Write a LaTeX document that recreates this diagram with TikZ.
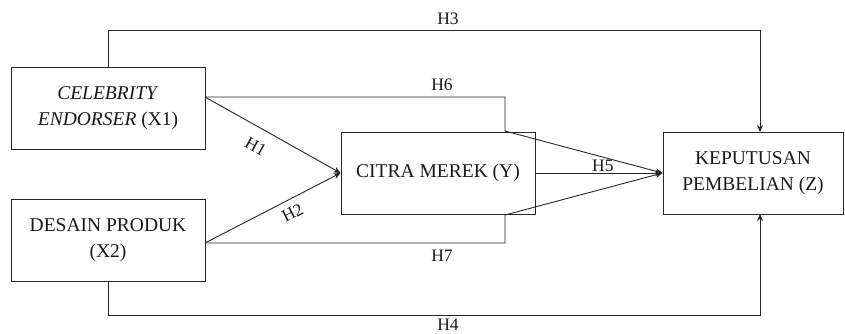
\documentclass[tikz,border=0pt]{standalone}
\usepackage{fontspec}
\setmainfont{Liberation Serif}
\usetikzlibrary{arrows.meta}

\tikzset{
  varbox/.style={draw=black!85, line width=0.9pt, inner sep=0pt, align=center,
    font=\fontsize{19.5}{25.5}\selectfont, text=black!90},
  hlabel/.style={font=\fontsize{17.5}{20}\selectfont, text=black!90, inner sep=0pt},
  path/.style={draw=black!85, line width=0.9pt},
  arr/.style={path, -{Stealth[length=7pt,width=6pt]}}
}

\begin{document}
\begin{tikzpicture}[x=1pt, y=-1pt]
\useasboundingbox (0,0) rectangle (845,333);

% variables
\node[varbox, minimum width=194pt, minimum height=82pt] (x1) at (108,108)
  {\textit{CELEBRITY}\\\textit{ENDORSER} (X1)};
\node[varbox, minimum width=194pt, minimum height=82pt] (x2) at (108,240)
  {DESAIN PRODUK\\(X2)};
\node[varbox, minimum width=194pt, minimum height=82pt] (y) at (438,173)
  {CITRA MEREK (Y)};
\node[varbox, minimum width=180pt, minimum height=82pt] (z) at (753,173)
  {KEPUTUSAN\\PEMBELIAN (Z)};

% anchor points of the routed connectors
\coordinate (x1r) at (205,97);
\coordinate (x2r) at (205,243);
\coordinate (x1t) at (108,67);
\coordinate (x2b) at (108,281);
\coordinate (zt) at (760,132);
\coordinate (zb) at (760,214);
\coordinate (h6a) at (505,97);
\coordinate (h6b) at (505,131);
\coordinate (h7a) at (505,243);
\coordinate (h7b) at (505,215);

% H1, H2: exogenous -> mediator
\draw[arr] (x1r) -- node[hlabel, sloped, below=12pt, pos=0.44] {H1} (y.west);
\draw[arr] (x2r) -- node[hlabel, sloped, below=7pt, pos=0.6] {H2} (y.west);

% H5: mediator -> outcome
\draw[arr] (y.east) -- node[hlabel, above=1pt, pos=0.53] {H5} (z.west);

% H6, H7: routed over and under the mediator
\draw[arr] (x1r) -- (h6a) -- (h6b) -- (z.west);
\draw[arr] (x2r) -- (h7a) -- (h7b) -- (z.west);
\node[hlabel] (h6) at (442,85) {H6};
\node[hlabel] (h7) at (442,256) {H7};

% H3, H4: direct paths to the outcome
\draw[arr] (x1t) -- (108,30) -- (760,30) -- (zt);
\draw[arr] (x2b) -- (108,315) -- (760,315) -- (zb);
\node[hlabel] (h3) at (448,19) {H3};
\node[hlabel] (h4) at (448,324.5) {H4};
\end{tikzpicture}
\end{document}
